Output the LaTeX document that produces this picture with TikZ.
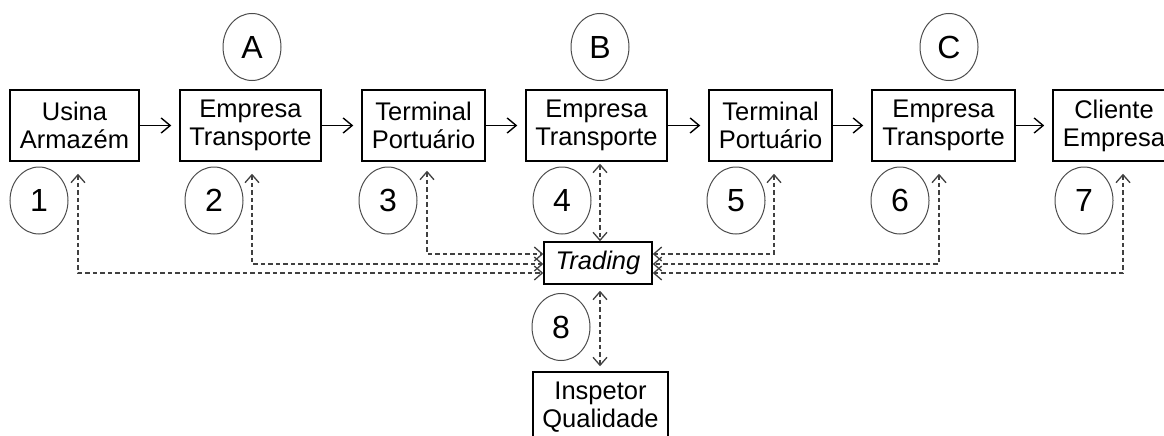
\documentclass[tikz,border=0pt]{standalone}
\usepackage{fontspec}
\setmainfont{Liberation Sans}
\usetikzlibrary{shapes.geometric,arrows.meta}

\begin{document}
\begin{tikzpicture}[x=1pt,y=-1pt,
    box/.style={draw,line width=1.5pt,minimum height=71pt,inner sep=0pt,align=center,
      font=\fontsize{25.5}{28}\selectfont},
    tag/.style={ellipse,draw=black!70,line width=1pt,minimum width=58pt,minimum height=67pt,
      inner sep=0pt,font=\fontsize{32}{36}\selectfont},
    flow/.style={line width=1.4pt,-{Straight Barb[length=9pt,width=15pt]},shorten >=8pt},
    link/.style={draw=black!75,line width=1.3pt,dash pattern=on 4.5pt off 3pt,
      {Straight Barb[length=8pt,width=14pt]}-{Straight Barb[length=8pt,width=14pt]}}]
    \clip (0,0) rectangle (1164,436);
    % chain
    \node[box,minimum width=129pt] (n1) at (74.5,125.5) {Usina\\Armazém};
    \node[box,minimum width=141pt] (n2) at (250.5,125.5) {Empresa\\Transporte};
    \node[box,minimum width=123pt] (n3) at (423.5,125.5) {Terminal\\Portuário};
    \node[box,minimum width=141pt] (n4) at (596.5,125.5) {Empresa\\Transporte};
    \node[box,minimum width=123pt] (n5) at (770.5,125.5) {Terminal\\Portuário};
    \node[box,minimum width=143pt] (n6) at (943.5,125.5) {Empresa\\Transporte};
    \node[box,minimum width=108pt] (n7) at (1109,125.5) {\hspace*{10pt}Cliente\\\hspace*{10pt}Empresa};
    \node[box,minimum width=108pt,minimum height=42pt] (trade) at (598,263) {\itshape Trading};
    \node[box,minimum width=135pt] (insp) at (600.5,407.5) {Inspetor\\Qualidade};
    \foreach \a/\b in {n1/n2,n2/n3,n3/n4,n4/n5,n5/n6,n6/n7}
      \draw[flow] (\a.east) -- (\b.west);
    % tags
    \node[tag] (tA) at (252,47) {A};
    \node[tag] (tB) at (600,47) {B};
    \node[tag] (tC) at (949,47) {C};
    \foreach \i/\x in {1/39,2/214,3/388,4/562,5/736,6/900,7/1084}
      \node[tag] (t\i) at (\x,200.5) {\i};
    \node[tag] (t8) at (561,327) {8};
    % links to trading
    \draw[link,shorten <=12pt] ([xshift=3.5pt]n1.south) |- ([yshift=-10pt]trade.west);
    \draw[link,shorten <=12pt] ([xshift=1.5pt]n2.south) |- ([yshift=-1pt]trade.west);
    \draw[link,shorten <=9pt] ([xshift=3.5pt]n3.south) |- ([yshift=9pt]trade.west);
    \draw[link,shorten <=12pt] ([xshift=3.5pt]n5.south) |- ([yshift=9pt]trade.east);
    \draw[link,shorten <=12pt] ([xshift=-4.5pt]n6.south) |- ([yshift=-1pt]trade.east);
    \draw[link,shorten <=12pt] ([xshift=14pt]n7.south) |- ([yshift=-10pt]trade.east);
    \draw[link,shorten <=2pt] ([xshift=3.5pt]n4.south) -- ([xshift=3.5pt]n4.south |- trade.north);
    \draw[link,shorten <=6pt,shorten >=5pt] ([xshift=2pt]trade.south) -- ([xshift=2pt]trade.south |- insp.north);
\end{tikzpicture}
\end{document}
